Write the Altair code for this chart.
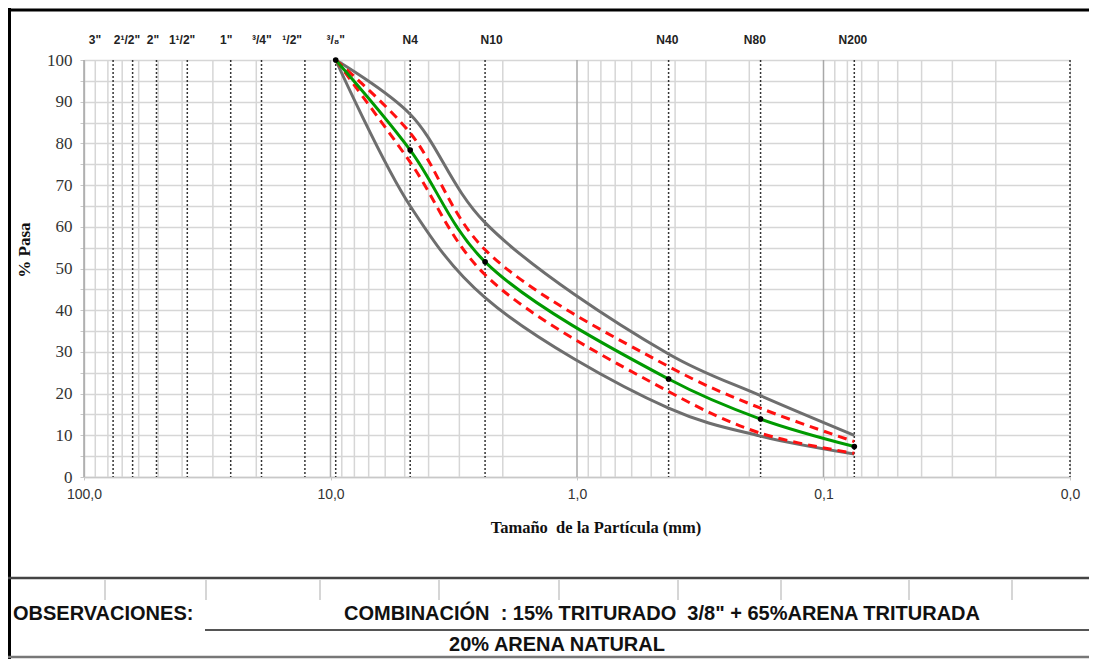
import altair as alt
import pandas as pd

# ---------------- data ----------------
sieve_labels = ['3"', '2¹/2"', '2"', '1¹/2"', '1"', '³/4"', '¹/2"', '³/₈"',
                'N4', 'N10', 'N40', 'N80', 'N200']
sieve_mm = [76.2, 63.5, 50.8, 38.1, 25.4, 19.05, 12.7, 9.525,
            4.75, 2.36, 0.425, 0.18, 0.075]
label_mm = [90.2, 66.9, 52.5, 40.0, 26.5, 19.0, 14.3, 9.525,
            4.75, 2.22, 0.43, 0.19, 0.076]

curve_mm = [9.525, 4.75, 2.36, 0.425, 0.18, 0.075]
lim_sup = [100, 87, 61, 29.5, 19.5, 10]
lim_inf = [100, 65, 43, 16.5, 9.8, 5.5]
tol_sup = [100, 82.5, 54.5, 26.5, 16.5, 8.5]
tol_inf = [100, 75.5, 48.5, 20.5, 10.5, 5.7]
combinacion = [100, 78.4, 51.6, 23.5, 13.9, 7.3]

decades = [100, 10, 1, 0.1, 0.01]
minor_grid = [m * d for d in [10, 1, 0.1, 0.01] for m in range(2, 10)]

W, H = 986, 417

x_scale = alt.Scale(type="log", domain=[0.01, 100], reverse=True, nice=False)
y_scale = alt.Scale(domain=[0, 100], nice=False)

x_axis = alt.Axis(values=decades, grid=False, title=None,
                  labelExpr="replace(format(datum.value, '.1f'), '.', ',')",
                  labelFont="Liberation Sans", labelFontSize=14, labelColor="#333",
                  tickSize=3, tickColor="#c8c8c8", labelPadding=7,
                  domainColor="#c8c8c8", domainWidth=1.5, labelFlush=False)
y_axis = alt.Axis(values=list(range(0, 101, 5)), title=None,
                  labelExpr="datum.value % 10 == 0 ? datum.label : ''",
                  labelFont="Liberation Serif", labelFontSize=17, labelColor="#333",
                  gridColor="#d6d6d6", gridWidth=1.5,
                  tickSize=4, tickColor="#c8c8c8", labelPadding=8,
                  domainColor="#c8c8c8", domainWidth=1.5)


def X():
    return alt.X("mm:Q", scale=x_scale, axis=x_axis)


def Y():
    return alt.Y("p:Q", scale=y_scale, axis=y_axis)


# ---------------- grid ----------------
minor_df = pd.DataFrame({"mm": minor_grid})
dec_df = pd.DataFrame({"mm": decades[:-1]})
dotted_df = pd.DataFrame({"mm": sieve_mm + [0.01]})

base_axes = alt.Chart(pd.DataFrame({"mm": [1.0], "p": [0.0]})).mark_point(opacity=0).encode(
    x=X(), y=Y())

minor_rules = alt.Chart(minor_df).mark_rule(color="#d6d6d6", strokeWidth=1.5).encode(x=X())
dec_rules = alt.Chart(dec_df).mark_rule(color="#a8a8a8", strokeWidth=1.5).encode(x=X())
dotted_rules = alt.Chart(dotted_df).mark_rule(color="#333333", strokeWidth=1.5,
                                              strokeDash=[2, 2]).encode(x=X())

# ---------------- curves ----------------
rows = []
for name, vals in [("sup", lim_sup), ("inf", lim_inf)]:
    for mm, v in zip(curve_mm, vals):
        rows.append({"mm": mm, "p": v, "serie": name})
lim_df = pd.DataFrame(rows)
rows = []
for name, vals in [("sup", tol_sup), ("inf", tol_inf)]:
    for mm, v in zip(curve_mm, vals):
        rows.append({"mm": mm, "p": v, "serie": name})
tol_df = pd.DataFrame(rows)
comb_df = pd.DataFrame({"mm": curve_mm, "p": combinacion})

INTERP = "catmull-rom"
lim_lines = alt.Chart(lim_df).mark_line(color="#6e6e6e", strokeWidth=3,
                                        interpolate=INTERP).encode(
    x=X(), y=Y(), detail="serie:N")
tol_lines = alt.Chart(tol_df).mark_line(color="#ff1010", strokeWidth=3,
                                        strokeDash=[9, 6],
                                        interpolate=INTERP).encode(
    x=X(), y=Y(), detail="serie:N")
comb_line = alt.Chart(comb_df).mark_line(color="#009a00", strokeWidth=3,
                                         interpolate=INTERP).encode(x=X(), y=Y())
comb_pts = alt.Chart(comb_df).mark_circle(color="black", size=32, opacity=1).encode(
    x=X(), y=Y())

# ---------------- sieve labels ----------------
lab_df = pd.DataFrame({"mm": label_mm, "lab": sieve_labels})
sieve_text = alt.Chart(lab_df).mark_text(font="Liberation Sans", fontWeight="bold",
                                         fontSize=12, color="#222",
                                         baseline="middle").encode(
    x=X(), y=alt.value(-20), text="lab:N")

# ---------------- decorations ----------------
one = pd.DataFrame({"a": [0]})


def hline(x1, x2, y, color, w):
    return alt.Chart(one).mark_rule(color=color, strokeWidth=w).encode(
        x=alt.value(x1), x2=alt.value(x2), y=alt.value(y))


def vline(x, y1, y2, color, w):
    return alt.Chart(one).mark_rule(color=color, strokeWidth=w).encode(
        x=alt.value(x), y=alt.value(y1), y2=alt.value(y2))


def label(txt, x, y, size, align="center", font="Liberation Sans", weight="bold",
          angle=0):
    return alt.Chart(one).mark_text(text=txt, font=font, fontWeight=weight,
                                    fontSize=size, align=align, baseline="middle",
                                    color="#111", angle=angle).encode(
        x=alt.value(x), y=alt.value(y))


NB = "\u00a0"
decor = [
    hline(-76, 1005, -50, "#000000", 3),
    vline(-74.5, -52, 599, "#000000", 3),
    hline(-76, 1005, 518, "#444444", 2.5),
    hline(121, 1005, 570, "#555555", 2),
    hline(-76, 1005, 597, "#777777", 2.5),
]
for xv in [21, 122, 236, 355, 475, 594, 697, 825, 928]:
    decor.append(vline(xv, 520, 540, "#c8c8c8", 1.5))

decor += [
    label("OBSERVACIONES:", -71, 554, 20, align="left"),
    label("COMBINACIÓN" + NB + " : 15% TRITURADO" + NB + " 3/8\" + 65%ARENA TRITURADA",
          578, 554, 20),
    label("20% ARENA NATURAL", 473, 585, 20),
    label("% Pasa", -59, 190, 17, font="Liberation Serif", angle=270),
    label("Tamaño" + NB + " de la Partícula (mm)", 512, 468, 16.5, font="Liberation Serif"),
]

chart = alt.layer(
    base_axes, minor_rules, dec_rules, dotted_rules,
    lim_lines, tol_lines, comb_line, comb_pts, sieve_text, *decor
).properties(
    width=W, height=H,
    autosize=alt.AutoSizeParams(type="none"),
    padding={"left": 76, "top": 52, "right": 19, "bottom": 182},
).configure_view(stroke=None).configure(background="white")

chart.save("out.html", embed_options={"renderer": "svg", "actions": False})
